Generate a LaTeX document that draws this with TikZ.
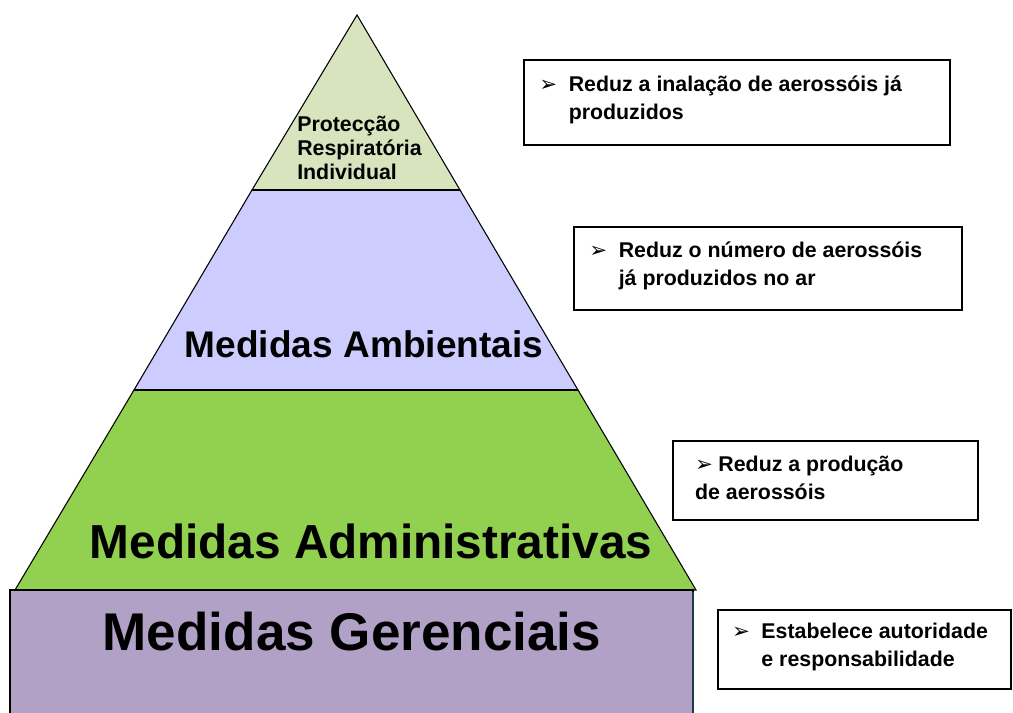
\documentclass[tikz,border=0pt]{standalone}
\usepackage{fontspec}
\setmainfont{Liberation Sans}
\newfontfamily\setafont{DejaVu Sans}
\usetikzlibrary{fit}

\definecolor{verdeclaro}{HTML}{D7E4BD}
\definecolor{lilas}{HTML}{CCCCFF}
\definecolor{verde}{HTML}{92D050}
\definecolor{roxo}{HTML}{B2A1C7}
\definecolor{azulescuro}{HTML}{1F3A4A}

\newcommand{\seta}{{\setafont\fontsize{16}{16}\selectfont ➢}}
\newcommand{\marca}{\makebox[22pt][l]{\seta}}
\newcommand{\recuo}{\hspace*{22pt}}

\tikzset{
  camada/.style={draw=black, line width=0.8pt},
  caixa/.style={draw=black, line width=1.2pt, fill=white, inner sep=0pt},
  nota/.style={anchor=west, align=left, inner sep=0pt,
    font=\bfseries\fontsize{16}{21.4}\selectfont},
  titulo/.style={inner sep=0pt}
}

\begin{document}
\begin{tikzpicture}[x=0.75pt, y=-0.75pt]
\useasboundingbox (0,0) rectangle (1013,713);

% piramide
\draw [camada, fill=verdeclaro] (357,15) -- (252,190) -- (460,190) -- cycle;
\draw [camada, fill=lilas] (252,190) -- (134,390) -- (578,390) -- (460,190) -- cycle;
\draw [camada, fill=verde] (134,390) -- (15,590) -- (696,590) -- (578,390) -- cycle;
\draw [camada, fill=roxo] (10,590) rectangle (693,716);
\draw [line width=2pt, color=azulescuro] (693,592) -- (693,716);
\draw [line width=1.6pt] (252,190) -- (460,190);
\draw [line width=1.6pt] (134,390) -- (578,390);

% textos da piramide
\node [titulo, anchor=west, align=left, font=\bfseries\fontsize{16}{18}\selectfont] (protecao) at (297,148)
  {Protecção\\Respiratória\\Individual};
\node [titulo, font=\bfseries\fontsize{27.8}{30}\selectfont] (ambientais) at (364,344) {Medidas Ambientais};
\node [titulo, font=\bfseries\fontsize{35.8}{38}\selectfont] (administrativas) at (371,541) {Medidas Administrativas};
\node [titulo, font=\bfseries\fontsize{39.8}{42}\selectfont] (gerenciais) at (352,632) {Medidas Gerenciais};

% caixas
\node [caixa, fit={(524,60) (950,145)}] (caixa1) {};
\node [caixa, fit={(574,227) (962,310)}] (caixa2) {};
\node [caixa, fit={(673,441) (978,520)}] (caixa3) {};
\node [caixa, fit={(718,610) (1011,689)}] (caixa4) {};

\node [nota] (nota1) at ([xshift=12pt, yshift=2pt] caixa1.west)
  {\marca Reduz a inalação de aerossóis já\\\recuo produzidos};
\node [nota] (nota2) at ([xshift=12pt, yshift=2pt] caixa2.west)
  {\marca Reduz o número de aerossóis\\\recuo já produzidos no ar};
\node [nota] (nota3) at ([xshift=17pt, yshift=2pt] caixa3.west)
  {\makebox[17.5pt][l]{\seta}Reduz a produção\\de aerossóis};
\node [nota] (nota4) at ([xshift=11pt, yshift=2pt] caixa4.west)
  {\marca Estabelece autoridade\\\recuo e responsabilidade};

\end{tikzpicture}
\end{document}
